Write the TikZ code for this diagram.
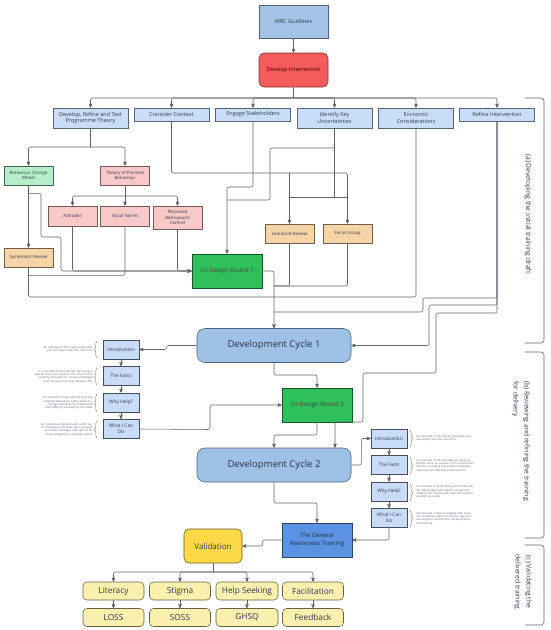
\documentclass[tikz,border=0pt]{standalone}
\usepackage{fontspec}
\setmainfont{Open Sans}
\usetikzlibrary{arrows,decorations.pathreplacing}
\definecolor{linec}{HTML}{5F6368}
\definecolor{txt}{HTML}{2E3B4E}
\definecolor{mrcblue}{HTML}{A4C4E6}
\definecolor{rowblue}{HTML}{C9DDF8}
\definecolor{redbox}{HTML}{F65B5B}
\definecolor{greenlt}{HTML}{B5EFC9}
\definecolor{pinklt}{HTML}{F9C8C8}
\definecolor{orangelt}{HTML}{F7D3A6}
\definecolor{greendk}{HTML}{2EC05A}
\definecolor{cycleblue}{HTML}{9DC2E6}
\definecolor{listblue}{HTML}{C8DBF9}
\definecolor{gatblue}{HTML}{5A92E4}
\definecolor{gold}{HTML}{FDD948}
\definecolor{cream}{HTML}{FCF0AE}

\begin{document}
\begin{tikzpicture}[x=1pt,y=-1pt,>=stealth',line width=0.55pt,node distance=26.5pt,
    box/.style={draw=linec,inner sep=1pt,align=center,text=txt,font=\fontsize{5.5}{6.6}\selectfont},
    rowbox/.style={box,fill=rowblue,draw=rowblue!45!black,minimum width=75pt},
    small/.style={box,font=\fontsize{4.4}{5.4}\selectfont,minimum width=49pt,minimum height=19pt},
    pinkbox/.style={small,fill=pinklt,draw=pinklt!45!black},
    orangebox/.style={small,fill=orangelt,draw=orangelt!45!black},
    codesign/.style={box,fill=greendk,draw=greendk!45!black,text=black!75,font=\fontsize{6}{7}\selectfont,minimum width=70pt,minimum height=34pt},
    cycle/.style={box,fill=cycleblue,draw=cycleblue!50!black,rounded corners=8pt,text=txt!90!black,font=\fontsize{9.5}{11}\selectfont,minimum width=154pt,minimum height=34pt},
    listbox/.style={box,fill=listblue,draw=listblue!35!black,font=\fontsize{4.8}{5.8}\selectfont,minimum width=36pt,minimum height=19pt},
    measure/.style={box,fill=cream,draw=cream!40!black,rounded corners=4pt,font=\fontsize{8.3}{9}\selectfont,minimum width=61pt,minimum height=18pt},
    link/.style={draw=linec,rounded corners=2pt},
    brace/.style={draw=linec,line width=0.4pt,decorate,decoration={brace,amplitude=2.5pt}},
    note/.style={font=\fontsize{2.8}{3.4}\selectfont,text=txt!80,text width=58pt,inner sep=0pt},
    side/.style={font=\fontsize{6.8}{11}\selectfont,text=txt,rotate=-90,inner sep=0pt}]

  \useasboundingbox (0,0) rectangle (550,630);

  \node[box,fill=mrcblue,draw=mrcblue!50!black,minimum width=69pt,minimum height=33pt] (mrc) at (293.5,21.5) {MRC Guidlines};
  \node[box,fill=redbox,draw=redbox!55!black,rounded corners=5pt,minimum width=69pt,minimum height=34pt,text=red!25!black] (devint) at (293.5,70) {Develop Intervention};

  \node[rowbox,minimum height=20pt] (theory) at (90.5,118) {Develop, Refine and Test\\Programme Theory};
  \node[rowbox,minimum height=13pt] (context) at (171.5,114.5) {Consider Context};
  \node[rowbox,minimum height=13pt] (stake) at (253,114.5) {Engage Stakeholders};
  \node[rowbox,minimum height=20pt] (uncert) at (334.5,118) {Identify Key\\Uncertainties};
  \node[rowbox,minimum height=20pt] (econ) at (416,118) {Economic\\Considerations};
  \node[rowbox,minimum height=13pt] (refine) at (497,114.5) {Refine Intervention};

  \node[small,fill=greenlt,draw=greenlt!40!black] (bcw) at (28.5,175.5) {Behaviour Change\\Wheel};
  \node[pinkbox] (tpb) at (125,175.5) {Theory of Planned\\Behaviour};
  \node[pinkbox,minimum height=20pt] (attitudes) at (72.5,216) {Attitudes};
  \node[pinkbox,minimum height=20pt] (norms) at (125,216) {Social Norms};
  \node[pinkbox,minimum height=23pt] (pbc) at (177.5,217.5) {Perceived\\Behavioural\\Control};
  \node[orangebox] (sysrev) at (28.5,257.5) {Systematic Review};
  \node[orangebox] (litrev) at (289.5,233.5) {Literature Review};
  \node[orangebox] (focus) at (347.5,233.5) {Focus Group};

  \node[codesign] (round1) at (227,271) {Co-Design Round 1};
  \node[cycle] (cycle1) at (274,345.5) {Development Cycle 1};

  \node[listbox] (introA) at (121,349.5) {Introduction};
  \node[listbox] (factsA) [below of=introA] {The Facts};
  \node[listbox] (whyA) [below of=factsA] {Why Help?};
  \node[listbox] (whatA) [below of=whyA] {What I Can\\Do};

  \node[codesign] (round2) at (317,405) {Co-Design Round 2};
  \node[cycle] (cycle2) at (274,465) {Development Cycle 2};

  \node[listbox] (introB) at (389,438.5) {Introduction};
  \node[listbox] (factsB) [below of=introB] {The Facts};
  \node[listbox] (whyB) [below of=factsB] {Why Help?};
  \node[listbox] (whatB) [below of=whyB] {What I Can\\Do};

  \node[box,fill=gatblue,draw=gatblue!45!black,text=txt!80!black,font=\fontsize{6}{8}\selectfont,minimum width=70pt,minimum height=34pt] (general) at (317,540) {The General\\Awareness Training};
  \node[box,fill=gold,draw=gold!40!black,rounded corners=5pt,font=\fontsize{8}{9}\selectfont,minimum width=58pt,minimum height=34pt] (valid) at (213,546) {Validation};

  \node[measure] (literacy) at (113.5,591) {Literacy};
  \node[measure] (stigma) at (180,591) {Stigma};
  \node[measure,minimum width=62pt] (seeking) at (247,591) {Help Seeking};
  \node[measure] (facil) at (313,591) {Facilitation};
  \node[measure] (loss) [below of=literacy] {LOSS};
  \node[measure] (soss) [below of=stigma] {SOSS};
  \node[measure,minimum width=62pt] (ghsq) [below of=seeking] {GHSQ};
  \node[measure] (feedback) [below of=facil] {Feedback};

  \coordinate (hub) at (293.5,98);
  \coordinate (split1) at (90.5,147);
  \coordinate (split2) at (125,196);
  \coordinate (join1) at (274,297);
  \coordinate (join2) at (274,286);
  \coordinate (ctxL) at (289.5,173);
  \coordinate (ctxR) at (347.5,173);
  \coordinate (unc1) at (270,148);
  \coordinate (unc2) at (334.5,197);
  \coordinate (stk) at (227,187);
  \coordinate (vhub) at (213,572);

  \draw[link,->] (mrc) -- (devint);
  \draw[link] (devint) -- (hub);
  \draw[link,->] (hub) -| (theory.north);
  \draw[link,->] (hub) -| (context.north);
  \draw[link,->] (hub) -| (stake.north);
  \draw[link,->] (hub) -| (uncert.north);
  \draw[link,->] (hub) -| (econ.north);
  \draw[link,->] (hub) -| (refine.north);

  \draw[link] (theory) -- (split1);
  \draw[link,->] (split1) -| (bcw.north);
  \draw[link,->] (split1) -| (tpb.north);
  \draw[link] (tpb) -- (split2);
  \draw[link,->] (split2) -| (attitudes.north);
  \draw[link,->] (split2) -- (norms.north);
  \draw[link,->] (split2) -| (pbc.north);

  \draw[link,->] (bcw) -- (sysrev);
  \draw[link,->] ([yshift=-8pt]bcw.south) -| (41,237) -| (61,271) -- (round1.west);
  \draw[link,->] (attitudes) |- (round1.west);
  \draw[link,->] (pbc) |- (round1.west);
  \draw[link] (norms) |- ([yshift=-8pt]sysrev.south);
  \draw[link] (sysrev) |- (join1);
  \draw[link] (econ) |- (join1);

  \draw[link,->] (context) |- (ctxR) -- (focus);
  \draw[link,->] (ctxL) -- (litrev);
  \draw[link,->] (stake) |- (stk) -- (round1.north);
  \draw[link] (uncert) |- (unc1) |- (227,200);
  \draw[link] (uncert) -- (unc2);
  \draw[link] (litrev.north |- unc2) -- (focus.north |- unc2);
  \draw[link] (litrev) |- (join2);
  \draw[link] (focus) |- (join2);

  \draw[link,->] (round1.east) -| (cycle1.north);
  \draw[link] (refine) |- (423,298) |- (274,312);
  \draw[link,->] (refine) |- (429,305) |- (cycle1.east);
  \draw[link,->] (refine) |- (436,313) |- (363,373) |- (335,422) -- ([xshift=61pt]cycle2.north);

  \draw[link,->] (cycle1.west) -- ++(-30,0) |- (introA.east);
  \draw[link,->] (introA) -- (factsA);
  \draw[link,->] (factsA) -- (whyA);
  \draw[link,->] (whyA) -- (whatA);
  \draw[link,->] (whatA.east) -- (210,429.5) |- (round2.west);
  \draw[link,->] (cycle1.south) |- (317,375) -- (round2.north);
  \draw[link,->] (round2.south) |- (274,435) -- (cycle2.north);

  \draw[link,->] (cycle2.east) -- ++(10,0) |- (introB.west);
  \draw[link,->] (introB) -- (factsB);
  \draw[link,->] (factsB) -- (whyB);
  \draw[link,->] (whyB) -- (whatB);
  \draw[link,->] (whatB.south) |- (general.east);
  \draw[link,->] (cycle2.south) |- (317,503) -- (general.north);
  \draw[link,->] (general.west) -- ++(-19,0) |- (valid.east);

  \draw[link] (valid) -- (vhub);
  \draw[link,->] (vhub) -| (literacy.north);
  \draw[link,->] (vhub) -| (stigma.north);
  \draw[link,->] (vhub) -| (seeking.north);
  \draw[link,->] (vhub) -| (facil.north);
  \draw[link,->] (literacy) -- (loss);
  \draw[link,->] (stigma) -- (soss);
  \draw[link,->] (seeking) -- (ghsq);
  \draw[link,->] (facil) -- (feedback);

  \draw[brace] (97,358) -- (97,341);
  \draw[brace] (97,385) -- (97,368);
  \draw[brace] (97,412) -- (97,394);
  \draw[brace] (97,438) -- (97,421);
  \node[note,anchor=east,align=right] (noteA1) at (93,349.5) {An overview of the training and what you can expect over the next hour};
  \node[note,anchor=east,align=right] (noteA2) at (93,376.5) {An overview of the rationale for having a specific focus on suicide in the construction industry, including the unique challenges and stressors that may influence this};
  \node[note,anchor=east,align=right] (noteA3) at (93,403) {An overview of help offering and help seeking, debunking myths about suicide and showing the impact both help offering and seeking can make};
  \node[note,anchor=east,align=right] (noteA4) at (93,429.5) {An overview actionable and usable recommendations for help and to present accessible pathways and options for those struggling or seeking support};

  \draw[brace] (410,430) -- (410,447);
  \draw[brace] (410,457) -- (410,474);
  \draw[brace] (410,484) -- (410,501);
  \draw[brace] (410,510) -- (410,527);
  \node[note,anchor=west,align=left] (noteB1) at (416,438.5) {An overview of the training and what you can expect over the next hour};
  \node[note,anchor=west,align=left] (noteB2) at (416,465.5) {An overview of the rationale for having a specific focus on suicide in the construction industry, including the unique challenges and stressors that may influence this};
  \node[note,anchor=west,align=left] (noteB3) at (416,492) {An overview of help offering and help seeking, debunking myths about suicide and showing the impact both help offering and seeking can make};
  \node[note,anchor=west,align=left] (noteB4) at (416,518.5) {An overview of how to engage with someone in distress, where to access appropriate supports, and further suicide prevention training};

  \draw[link,rounded corners=3pt] (525,98) -- (544,98) -- (544,343) -- (525,343);
  \draw[link,rounded corners=3pt] (525,352) -- (544,352) -- (544,538) -- (525,538);
  \draw[link,rounded corners=3pt] (525,545) -- (544,545) -- (544,625) -- (525,625);
  \node[side] (stageA) at (528,214) {(a) Developing the initial training draft};
  \node[side,align=left] (stageB) at (521,441) {(b) Reviewing and refining the training\\for delivery};
  \node[side,align=center] (stageC) at (523,582) {(c) Validating the\\delivered training};

\end{tikzpicture}
\end{document}
